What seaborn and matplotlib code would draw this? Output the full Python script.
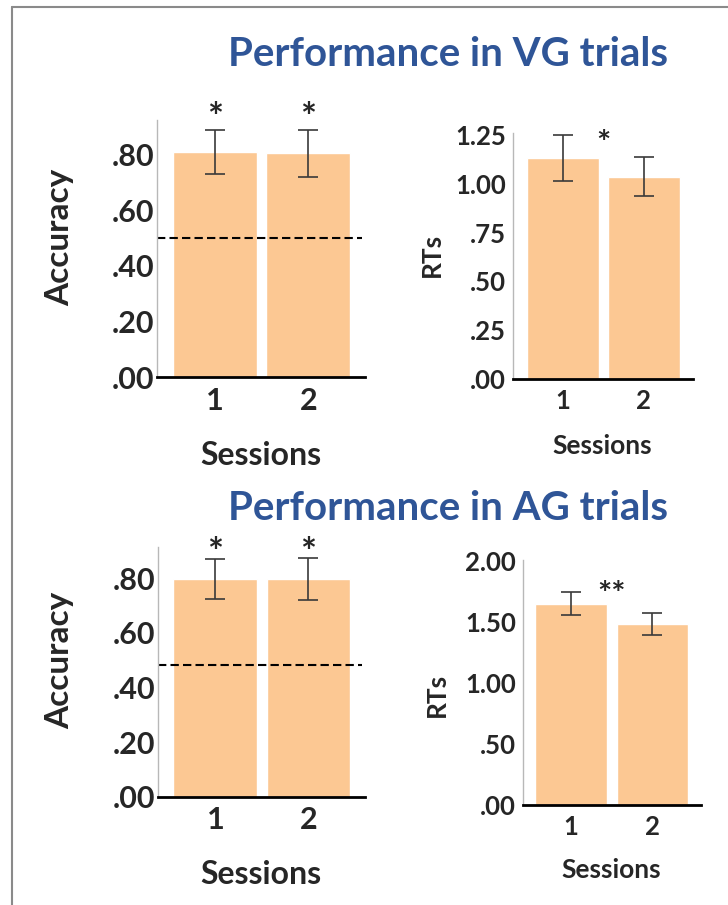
import matplotlib
matplotlib.use("Agg")
import matplotlib.pyplot as plt
from matplotlib.lines import Line2D
import seaborn as sns
import pandas as pd

# --- data -------------------------------------------------------------
sessions = ["1", "2"]

vg_accuracy = [0.81, 0.805]
vg_accuracy_err = [0.08, 0.085]
vg_rt = [1.13, 1.035]
vg_rt_err = [0.118, 0.10]

ag_accuracy = [0.797, 0.797]
ag_accuracy_err = [0.073, 0.077]
ag_rt = [1.652, 1.485]
ag_rt_err = [0.093, 0.09]

chance_vg = 0.50
chance_ag = 0.483

acc_ticks = [0.0, 0.2, 0.4, 0.6, 0.8]
acc_ticklabels = [".00", ".20", ".40", ".60", ".80"]
vg_rt_ticks = [0.0, 0.25, 0.5, 0.75, 1.0, 1.25]
vg_rt_ticklabels = [".00", ".25", ".50", ".75", "1.00", "1.25"]
ag_rt_ticks = [0.0, 0.5, 1.0, 1.5, 2.0]
ag_rt_ticklabels = [".00", ".50", "1.00", "1.50", "2.00"]

titles = ["Performance in VG trials", "Performance in AG trials"]

# --- style ------------------------------------------------------------
sns.set_style("white")
plt.rcParams["font.family"] = ["Lato", "DejaVu Sans"]
plt.rcParams["font.weight"] = "bold"

BAR = "#FCC893"
TITLE = "#2F5597"

fig = plt.figure(figsize=(7.28, 9.05), dpi=100)


def panel(rect, values, errs, ticks, ticklabels, ylim, xlim, width,
          ylabel, tick_fs, ylabel_fs, xlabel_fs, ylabel_xy, xlabel_xy, ypad):
    ax = fig.add_axes(rect)
    df = pd.DataFrame({"Sessions": sessions, "value": values})
    sns.barplot(data=df, x="Sessions", y="value", color=BAR, saturation=1,
                width=width, errorbar=None, ax=ax)
    ax.errorbar(range(len(values)), values, yerr=errs, fmt="none",
                ecolor="#3a3a3a", elinewidth=1.2, capsize=7, capthick=1.2)
    ax.set_ylim(*ylim)
    ax.set_xlim(*xlim)
    ax.set_yticks(ticks)
    ax.set_yticklabels(ticklabels)
    ax.tick_params(axis="both", length=0, labelsize=tick_fs)
    ax.tick_params(axis="y", pad=ypad)
    ax.tick_params(axis="x", pad=7)
    for lbl in ax.get_xticklabels() + ax.get_yticklabels():
        lbl.set_fontweight("bold")
    for s in ("top", "right"):
        ax.spines[s].set_visible(False)
    ax.spines["left"].set_color("#b8b8b8")
    ax.spines["left"].set_linewidth(1.0)
    ax.spines["bottom"].set_color("black")
    ax.spines["bottom"].set_linewidth(2.0)
    ax.set_ylabel(ylabel, fontsize=ylabel_fs, fontweight="bold")
    ax.set_xlabel("Sessions", fontsize=xlabel_fs, fontweight="bold")
    ax.yaxis.set_label_coords(*ylabel_xy)
    ax.xaxis.set_label_coords(*xlabel_xy)
    ax.yaxis.label.set_va("center")
    ax.xaxis.label.set_va("center")
    ax.set_facecolor("white")
    return ax


# top row: VG trials
ax1 = panel([0.2157, 0.5834, 0.2857, 0.284], vg_accuracy, vg_accuracy_err,
            acc_ticks, acc_ticklabels, (0, 0.925), (-0.616, 1.606), 0.9,
            "Accuracy", 22, 24, 23, (-0.466, 0.545), (0.5, -0.304), 2)
ax1.axhline(chance_vg, xmin=0.0, xmax=0.985, color="black", lw=1.5,
            ls=(0, (4, 2)))
for i in range(2):
    ax1.text(i, 0.928, "*", ha="center", va="center", fontsize=27,
             fontweight="bold", clip_on=False)

ax2 = panel([0.7047, 0.5812, 0.2473, 0.2718], vg_rt, vg_rt_err,
            vg_rt_ticks, vg_rt_ticklabels, (0, 1.26), (-0.615, 1.607), 0.89,
            "RTs", 18.5, 19, 19, (-0.45, 0.504), (0.494, -0.272), 5)
ax2.text(0.5, 1.2, "*", ha="center", va="center", fontsize=24,
         fontweight="bold", clip_on=False)

# bottom row: AG trials
ax3 = panel([0.217, 0.1197, 0.2843, 0.2762], ag_accuracy, ag_accuracy_err,
            acc_ticks, acc_ticklabels, (0, 0.916), (-0.616, 1.606), 0.9,
            "Accuracy", 22, 24, 23, (-0.473, 0.547), (0.497, -0.313), 2)
ax3.axhline(chance_ag, xmin=0.0, xmax=0.985, color="black", lw=1.5,
            ls=(0, (4, 2)))
for i in range(2):
    ax3.text(i, 0.89, "*", ha="center", va="center", fontsize=27,
             fontweight="bold", clip_on=False)

ax4 = panel([0.718, 0.1105, 0.2449, 0.2707], ag_rt, ag_rt_err,
            ag_rt_ticks, ag_rt_ticklabels, (0, 2.01), (-0.59, 1.595), 0.88,
            "RTs", 18.5, 19, 19, (-0.48, 0.449), (0.495, -0.265), 5)
ax4.text(0.5, 1.72, "**", ha="center", va="center", fontsize=24,
         fontweight="bold", clip_on=False)

# section titles
fig.text(448 / 728, 1 - 54 / 905, titles[0], ha="center", va="center",
         fontsize=29, fontweight="bold", color=TITLE)
fig.text(448 / 728, 1 - 509 / 905, titles[1], ha="center", va="center",
         fontsize=29, fontweight="bold", color=TITLE)

# frame edges (top and left)
fig.add_artist(Line2D([12 / 728, 1.0], [1 - 7 / 905, 1 - 7 / 905],
                      transform=fig.transFigure, color="#8a8a8a", lw=1.5))
fig.add_artist(Line2D([12 / 728, 12 / 728], [0.0, 1 - 7 / 905],
                      transform=fig.transFigure, color="#8a8a8a", lw=1.5))

fig.savefig("out.png", dpi=100, facecolor="white")
